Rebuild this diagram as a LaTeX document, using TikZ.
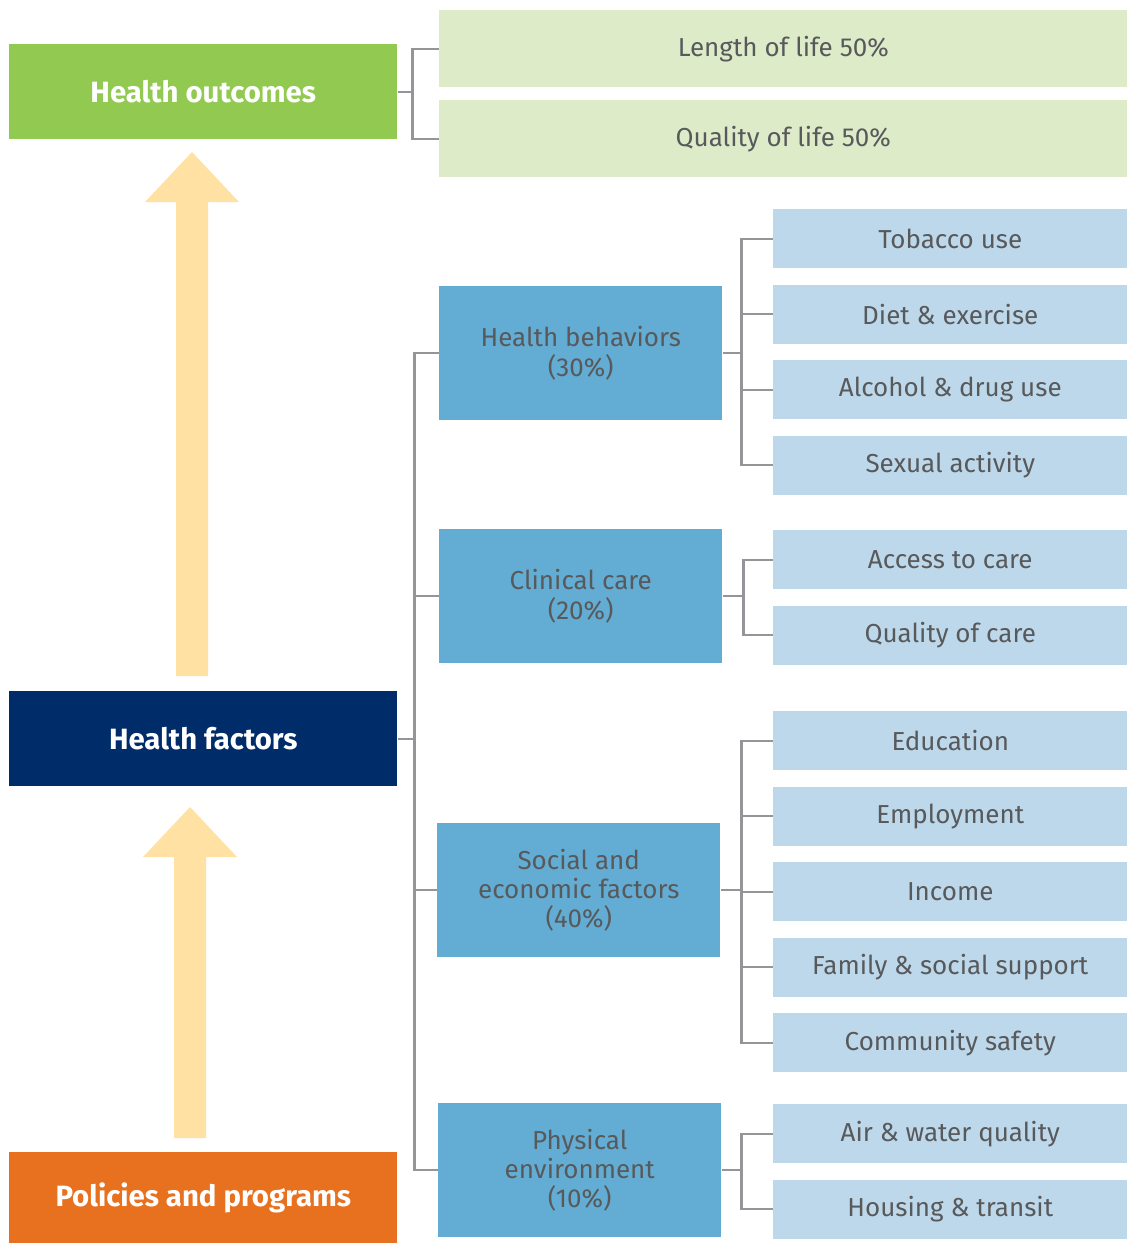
\documentclass[tikz,border=0pt]{standalone}
\usepackage{fontspec}
\setmainfont{Fira Sans}
\usetikzlibrary{positioning}

\definecolor{outgreen}{HTML}{92C950}
\definecolor{lightgreen}{HTML}{DDEBC9}
\definecolor{navy}{HTML}{002D6A}
\definecolor{orange}{HTML}{E8711F}
\definecolor{midblue}{HTML}{63ADD4}
\definecolor{lightblue}{HTML}{BDD8EA}
\definecolor{arrowyellow}{HTML}{FFE2A3}
\definecolor{textgray}{HTML}{58595B}
\definecolor{linegray}{HTML}{939598}

\begin{document}
\begin{tikzpicture}[x=0.75pt, y=-0.75pt,
        node distance=12pt,
        mainbox/.style={minimum width=291pt, minimum height=71.25pt, inner sep=0pt, anchor=north west, text=white, font=\bfseries\fontsize{22}{26}\selectfont},
        outbox/.style={fill=lightgreen, minimum width=516pt, minimum height=57.75pt, inner sep=0pt, anchor=north west, text=textgray, font=\fontsize{19.5}{22}\selectfont},
        factorbox/.style={fill=midblue, minimum width=212.25pt, minimum height=100.5pt, inner sep=0pt, anchor=north west, text=textgray, align=center, font=\fontsize{19.5}{22}\selectfont},
        leafbox/.style={fill=lightblue, minimum width=265.5pt, minimum height=44.25pt, inner sep=0pt, anchor=north west, text=textgray, font=\fontsize{19.5}{22}\selectfont},
        link/.style={draw=linegray, line width=1.6pt},
        bigarrow/.style={fill=arrowyellow}]

        \useasboundingbox (0,0) rectangle (1127,1243);

        % Nodes
        \node [mainbox, fill=outgreen] (outcomes) at (9,44) {Health outcomes};
        \node [mainbox, fill=navy] (factors) at (9,691) {Health factors};
        \node [mainbox, fill=orange, minimum height=68.25pt] (policies) at (9,1152) {Policies and programs};

        \node [outbox] (length) at (439,10) {Length of life 50\%};
        \node [outbox] (quality) at (439,100) {Quality of life 50\%};

        \node [factorbox] (behaviors) at (439,286) {Health behaviors\\(30\%)};
        \node [factorbox] (clinical) at (439,529) {Clinical care\\(20\%)};
        \node [factorbox] (social) at (437,823) {Social and\\economic factors\\(40\%)};
        \node [factorbox] (physical) at (438,1103) {Physical\\environment\\(10\%)};

        \node [leafbox] (tobacco) at (773,209) {Tobacco use};
        \node [leafbox, below=of tobacco] (diet) {Diet \& exercise};
        \node [leafbox, below=of diet] (alcohol) {Alcohol \& drug use};
        \node [leafbox, below=of alcohol] (sexual) {Sexual activity};

        \node [leafbox] (access) at (773,530) {Access to care};
        \node [leafbox, below=of access] (carequality) {Quality of care};

        \node [leafbox] (education) at (773,711) {Education};
        \node [leafbox, below=of education] (employment) {Employment};
        \node [leafbox, below=of employment] (income) {Income};
        \node [leafbox, below=of income] (family) {Family \& social support};
        \node [leafbox, below=of family] (community) {Community safety};

        \node [leafbox] (airwater) at (773,1104) {Air \& water quality};
        \node [leafbox, below=of airwater] (housing) {Housing \& transit};

        % Arrows
        \fill [bigarrow] (176,676) -- (176,202) -- (145,202) -- (192,152) -- (239,202) -- (208,202) -- (208,676) -- cycle;
        \fill [bigarrow] (174,1138) -- (174,857) -- (143,857) -- (190,807) -- (237,857) -- (206,857) -- (206,1138) -- cycle;

        % Connectors
        \draw [link] (outcomes.east) -- ++(15,0) coordinate (outfork);
        \draw [link] (outfork) |- (length.west);
        \draw [link] (outfork) |- (quality.west);

        \draw [link] (factors.east) -- ++(17,0) coordinate (factorfork);
        \foreach \f in {behaviors, clinical, social, physical}
            \draw [link] (factorfork) |- (\f.west);

        \draw [link] (behaviors.east) -- ++(19,0) coordinate (behavfork);
        \foreach \l in {tobacco, diet, alcohol, sexual}
            \draw [link] (behavfork) |- (\l.west);

        \draw [link] (clinical.east) -- ++(21,0) coordinate (clinfork);
        \foreach \l in {access, carequality}
            \draw [link] (clinfork) |- (\l.west);

        \draw [link] (social.east) -- ++(21,0) coordinate (socialfork);
        \foreach \l in {education, employment, income, family, community}
            \draw [link] (socialfork) |- (\l.west);

        \draw [link] (physical.east) -- ++(20,0) coordinate (physfork);
        \foreach \l in {airwater, housing}
            \draw [link] (physfork) |- (\l.west);
\end{tikzpicture}
\end{document}
